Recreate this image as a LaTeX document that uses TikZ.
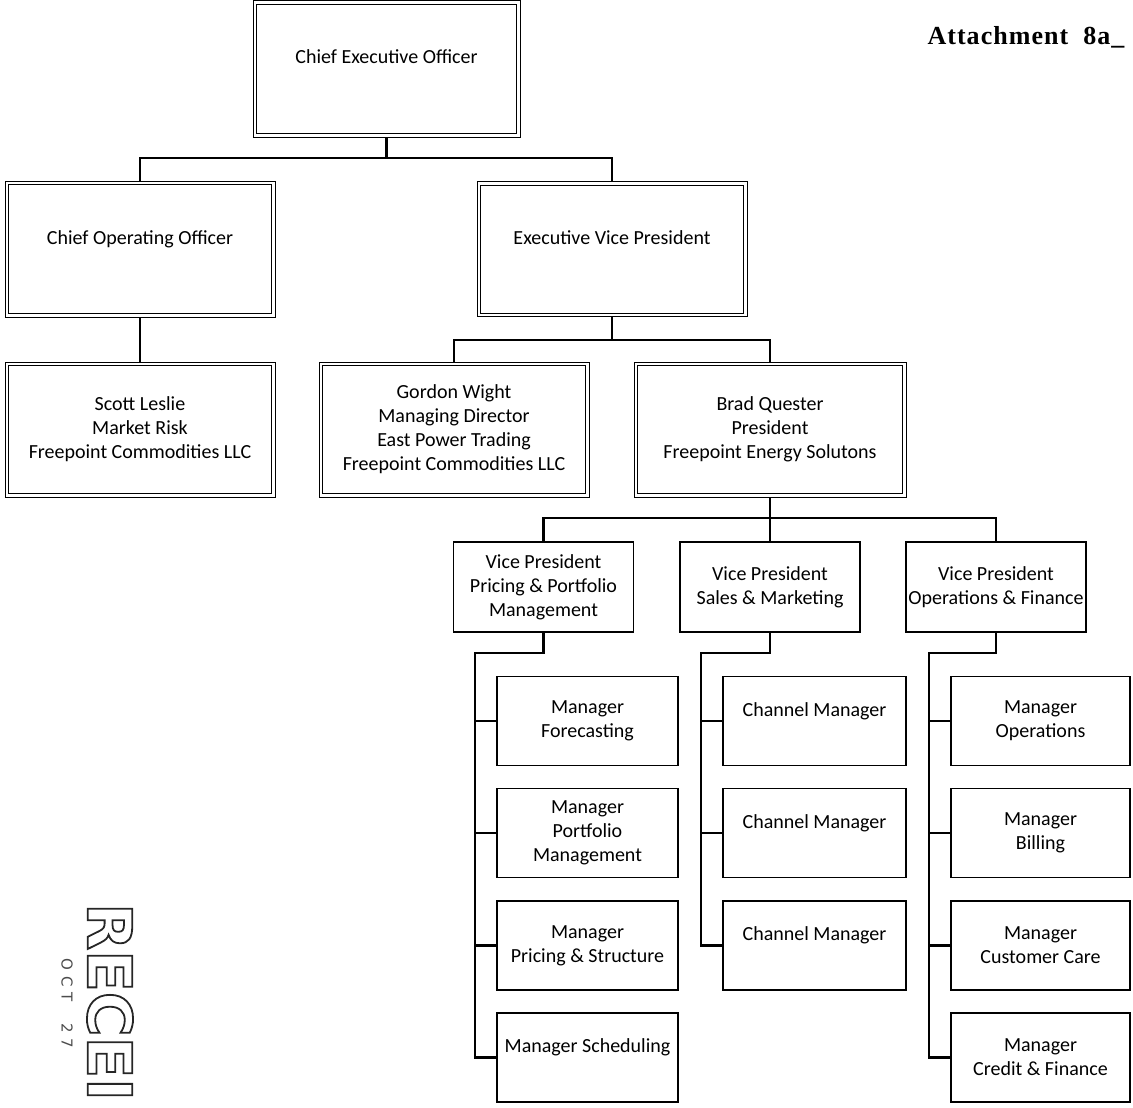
\documentclass[tikz,border=0pt]{standalone}
\usepackage{fontspec}
\setmainfont{Carlito}
\newfontfamily\attfont[LetterSpace=4]{Liberation Serif}
\newfontfamily\stampfont{DejaVu Sans}
\newfontfamily\datefont[LetterSpace=40]{DejaVu Sans}
\newcommand\outlinedtext[1]{\special{pdf:literal direct 1 Tr 1.8 w}#1\special{pdf:literal direct 0 Tr}}
\begin{document}
\begin{tikzpicture}[x=1pt,y=-1pt,
  box/.style={draw, line width=1.2pt, inner sep=0pt, align=center,
              font=\fontsize{20}{24}\selectfont},
  bigbox/.style={box, line width=1pt},
  one/.style={text height=14pt, text depth=24pt},
  vpbox/.style={box, minimum width=180pt, minimum height=90pt},
  mgr/.style={box, minimum width=181pt, minimum height=89pt},
  inner/.style={draw, line width=1pt},
  conn/.style={line width=2.2pt}]
\useasboundingbox (0,0) rectangle (1133,1108);

% title
\node[font=\attfont\bfseries\fontsize{26}{26}\selectfont, inner sep=0pt] (att) at (1026,37) {Attachment\ \ 8a\_};

% top levels (double-framed)
\node[bigbox, one, minimum width=267pt, minimum height=136pt] (ceo) at (386.5,69) {Chief Executive Officer};
\node[bigbox, one, minimum width=270pt, minimum height=136pt] (coo) at (140,249) {Chief Operating Officer};
\node[bigbox, one, minimum width=270pt, minimum height=135pt] (evp) at (612,249) {Executive Vice President};
\node[bigbox, minimum width=270pt, minimum height=135pt] (scott) at (140,429.5) {Scott Leslie\\Market Risk\\Freepoint Commodities LLC};
\node[bigbox, minimum width=270pt, minimum height=135pt] (gordon) at (454,429.5) {Gordon Wight\\Managing Director\\East Power Trading\\Freepoint Commodities LLC};
\node[bigbox, minimum width=272pt, minimum height=135pt] (brad) at (770,429.5) {Brad Quester\\President\\Freepoint Energy Solutons};
\foreach \n in {ceo,coo,evp,scott,gordon,brad}
  \draw[inner] ([shift={(4pt,-4pt)}]\n.north west) rectangle ([shift={(-4pt,4pt)}]\n.south east);

% vice presidents
\node[vpbox] (vp1) at (543.5,587) {Vice President\\Pricing \& Portfolio\\Management};
\node[vpbox] (vp2) at (770,587) {Vice President\\Sales \& Marketing};
\node[vpbox] (vp3) at (996,587) {Vice President\\Operations \& Finance};

% managers column 1
\node[mgr] (m11) at (587.5,721) {Manager\\Forecasting};
\node[mgr] (m12) at (587.5,833) {Manager\\Portfolio\\Management};
\node[mgr] (m13) at (587.5,945.5) {Manager\\Pricing \& Structure};
\node[mgr, one] (m14) at (587.5,1057.5) {Manager Scheduling};
% column 2
\node[mgr, one, minimum width=183pt] (m21) at (814.5,721) {Channel Manager};
\node[mgr, one, minimum width=183pt] (m22) at (814.5,833) {Channel Manager};
\node[mgr, one, minimum width=183pt] (m23) at (814.5,945.5) {Channel Manager};
% column 3
\node[mgr, minimum width=179pt] (m31) at (1040.5,721) {Manager\\Operations};
\node[mgr, minimum width=179pt] (m32) at (1040.5,833) {Manager\\Billing};
\node[mgr, minimum width=179pt] (m33) at (1040.5,945.5) {Manager\\Customer Care};
\node[mgr, minimum width=179pt] (m34) at (1040.5,1057.5) {Manager\\Credit \& Finance};

% connectors
\coordinate (j1) at (386.5,158);
\draw[conn] (ceo.south) -- (j1) -| (coo.north);
\draw[conn] (j1) -| (evp.north);
\draw[line width=1.2pt] (coo.south) -- (scott.north);
\coordinate (j2) at (612,340);
\draw[conn] (evp.south) -- (j2) -| (gordon.north);
\draw[conn] (j2) -| (brad.north);
\coordinate (j3) at (770,518);
\draw[conn] (brad.south) -- (j3) -| (vp1.north);
\draw[conn] (j3) -| (vp3.north);
\draw[conn] (j3) -- (vp2.north);

\coordinate (s1) at (475,653);
\draw[conn] (vp1.south) |- (s1) |- (m14.west);
\foreach \n in {m11,m12,m13} \draw[conn] (s1 |- \n.west) -- (\n.west);
\coordinate (s2) at (701,653);
\draw[conn] (vp2.south) |- (s2) |- (m23.west);
\foreach \n in {m21,m22} \draw[conn] (s2 |- \n.west) -- (\n.west);
\coordinate (s3) at (929,653);
\draw[conn] (vp3.south) |- (s3) |- (m34.west);
\foreach \n in {m31,m32,m33} \draw[conn] (s3 |- \n.west) -- (\n.west);

% received stamp
\node[rotate=-90, anchor=west, inner sep=0pt, text=black!85,
      font=\stampfont\bfseries\fontsize{61}{61}\selectfont] (stamp) at (110,903) {\outlinedtext{RECEI}};
\node[rotate=-90, anchor=west, inner sep=0pt, text=black!70,
      font=\datefont\fontsize{15}{15}\selectfont] (date) at (67,958) {OCT\ \ 27};
\end{tikzpicture}
\end{document}
